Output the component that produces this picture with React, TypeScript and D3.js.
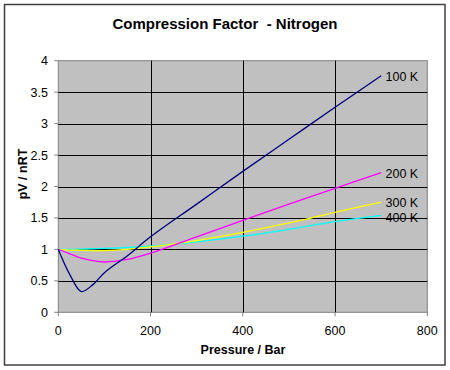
import React from "react";
import * as d3 from "d3";

const pressures = [0, 25, 50, 75, 100, 150, 200, 300, 400, 500, 600, 700];
const z100 = [1, 0.6, 0.33, 0.44, 0.63, 0.9, 1.2, 1.72, 2.24, 2.75, 3.26, 3.76];
const z200 = [1, 0.93, 0.86, 0.82, 0.8, 0.84, 0.94, 1.2, 1.46, 1.72, 1.97, 2.22];
const z300 = [1, 0.99, 0.985, 0.98, 0.98, 1.0, 1.04, 1.14, 1.27, 1.42, 1.59, 1.75];
const z400 = [1, 1.0, 1.005, 1.01, 1.015, 1.03, 1.05, 1.12, 1.21, 1.32, 1.44, 1.54];
const seriesNames = ["100 K", "200 K", "300 K", "400 K"];
const seriesColors = ["#000080", "#FF00FF", "#FFFF00", "#00FFFF"];
const xTicks = [0, 200, 400, 600, 800];
const yTicks = [0, 0.5, 1, 1.5, 2, 2.5, 3, 3.5, 4];

export default function App() {
  const W = 450, H = 370;
  const left = 58.3, right = 427.3, top = 60.7, bottom = 312.3;
  const x = d3.scaleLinear().domain([0, 800]).range([left, right]);
  const y = d3.scaleLinear().domain([0, 4]).range([bottom, top]);
  const series = [z100, z200, z300, z400];
  const line = d3
    .line<number>()
    .x((_, i) => x(pressures[i]))
    .y((d) => y(d))
    .curve(d3.curveCatmullRom.alpha(0.5));
  const font = "'Liberation Sans', Arial, sans-serif";
  const labelY = [76, 173, 202, 217];
  return (
    <svg width={W} height={H} style={{ position: "absolute", left: 0, top: 0 }} fontFamily={font}>
      <rect x={0} y={0} width={W} height={H} fill="#fff" />
      <rect x={4.5} y={4.5} width={440.5} height={360.5} fill="#fff" stroke="#404040" strokeWidth={1.5} />
      <text x={225} y={29} textAnchor="middle" fontSize={15} fontWeight="bold" fill="#000" style={{ whiteSpace: "pre" }}>
        {"Compression Factor  - Nitrogen"}
      </text>
      <rect x={left} y={top} width={right - left} height={bottom - top} fill="#C0C0C0" stroke="#808080" strokeWidth={1} />
      {yTicks.slice(1, -1).map((t) => (
        <line key={"gy" + t} x1={left} x2={right} y1={Math.round(y(t)) + 0.5} y2={Math.round(y(t)) + 0.5} stroke="#000" strokeWidth={1} />
      ))}
      {xTicks.slice(1, -1).map((t) => (
        <line key={"gx" + t} x1={Math.round(x(t)) + 0.5} x2={Math.round(x(t)) + 0.5} y1={top} y2={bottom} stroke="#000" strokeWidth={1} />
      ))}
      {yTicks.map((t) => (
        <g key={"ty" + t}>
          <line x1={left - 4} x2={left} y1={y(t)} y2={y(t)} stroke="#808080" />
          <text x={48} y={y(t) + 4.5} textAnchor="end" fontSize={12.5} fill="#000">
            {t}
          </text>
        </g>
      ))}
      {xTicks.map((t) => (
        <g key={"tx" + t}>
          <line x1={x(t)} x2={x(t)} y1={bottom} y2={bottom + 4} stroke="#808080" />
          <text x={x(t)} y={334.5} textAnchor="middle" fontSize={12.5} fill="#000">
            {t}
          </text>
        </g>
      ))}
      <text x={243} y={353.5} textAnchor="middle" fontSize={12.5} fontWeight="bold" fill="#000">
        Pressure / Bar
      </text>
      <text transform="translate(27,174) rotate(-90)" textAnchor="middle" fontSize={12.5} fontWeight="bold" fill="#000">
        pV / nRT
      </text>
      {series
        .map((s, i) => ({ s, i }))
        .reverse()
        .map(({ s, i }) => (
          <path key={"s" + i} d={line(s) || ""} fill="none" stroke={seriesColors[i]} strokeWidth={1.3} />
        ))}
      {seriesNames.map((n, i) => (
        <text key={"l" + i} x={385.5} y={labelY[i] + 4.5} fontSize={12.5} fill="#000">
          {n}
        </text>
      ))}
    </svg>
  );
}
